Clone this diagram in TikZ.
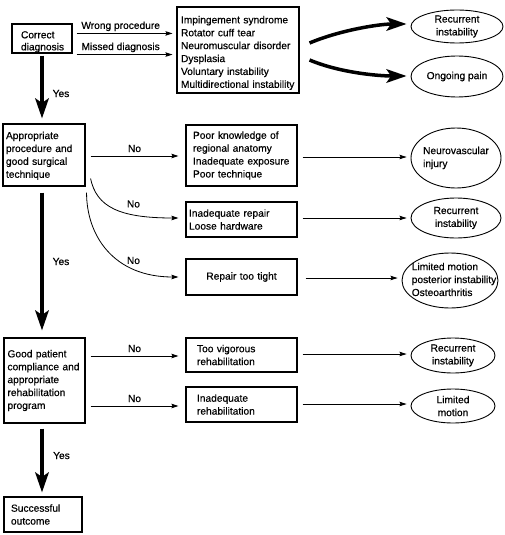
\documentclass[tikz,border=0pt]{standalone}
\usepackage{fontspec}
\setmainfont{Liberation Sans}[FakeBold=0.5]
\usetikzlibrary{shapes.geometric,arrows.meta,calc}
\newcommand{\topstrut}[1]{\rule{0pt}{#1}}
\newcommand{\leftlines}[1]{\begin{tabular}{@{}l@{}}#1\end{tabular}}
\begin{document}
\begin{tikzpicture}[x=1pt,y=-1pt,
  font=\fontsize{10.2}{12.9}\selectfont,
  box/.style={draw, line width=1.1pt, inner ysep=0pt, align=left},
  oval/.style={draw, ellipse, line width=0.9pt, inner sep=0pt},
  ovaltext/.style={inner sep=0pt},
  thinarr/.style={line width=0.8pt, -{Stealth[length=7pt,width=4.5pt,inset=1pt]}},
  thickarr/.style={line width=3.5pt, -{Stealth[length=20pt,width=13.5pt,inset=4.5pt]}},
  lab/.style={inner sep=0pt}
]
\useasboundingbox[fill=white] (0,0) rectangle (505,535);

% boxes
\node[box, minimum width=60pt, minimum height=29pt, inner xsep=9pt, text width=42pt, font=\fontsize{10.2}{12}\selectfont] (cd) at (42,38.5) {\topstrut{13.8pt}Correct\\diagnosis};
\node[box, minimum width=122pt, minimum height=86pt, inner xsep=4pt, text width=114pt] (bb) at (238,50) {\topstrut{13.3pt}Impingement syndrome\\Rotator cuff tear\\Neuromuscular disorder\\Dysplasia\\Voluntary instability\\Multidirectional instability};
\node[box, minimum width=82pt, minimum height=62pt, inner xsep=3pt, text width=76pt] (ap) at (44,155) {\topstrut{9pt}Appropriate\\procedure and\\good surgical\\technique};
\node[box, minimum width=111pt, minimum height=61pt, inner xsep=7pt, text width=97pt] (pk) at (241.5,155.5) {Poor knowledge of\\regional anatomy\\Inadequate exposure\\Poor technique};
\node[box, minimum width=111pt, minimum height=35pt, inner xsep=3pt, text width=105pt] (ir) at (241.5,219.5) {Inadequate repair\\Loose hardware};
\node[box, minimum width=111pt, minimum height=36pt, inner xsep=3pt, text width=105pt, align=center] (rt) at (241.5,277) {Repair too tight};
\node[box, minimum width=81pt, minimum height=85pt, inner xsep=3.5pt, text width=74pt] (gp) at (44.5,380.5) {Good patient\\compliance and\\appropriate\\rehabilitation\\program};
\node[box, minimum width=111pt, minimum height=34pt, inner xsep=11pt, text width=89pt] (tv) at (241.5,355) {Too vigorous\\rehabilitation};
\node[box, minimum width=111pt, minimum height=35pt, inner xsep=11pt, text width=89pt] (irh) at (241.5,404.5) {Inadequate\\rehabilitation};
\node[box, minimum width=78pt, minimum height=35pt, inner xsep=7pt, text width=64pt] (so) at (43,514.5) {Successful\\outcome};

% ellipses
\node[oval, minimum width=92pt, minimum height=33pt, label={[ovaltext, align=center]center:Recurrent\\instability}] (e1) at (457,26.5) {};
\node[oval, minimum width=92pt, minimum height=41pt, label={[ovaltext, align=center]center:Ongoing pain}] (e2) at (457,76.5) {};
\node[oval, minimum width=90pt, minimum height=60pt, label={[ovaltext]center:{\leftlines{Neurovascular\\injury}}}] (e3) at (456,158) {};
\node[oval, minimum width=90pt, minimum height=40pt, label={[ovaltext, align=center]center:Recurrent\\instability}] (e4) at (456,218) {};
\node[oval, minimum width=96pt, minimum height=55pt, label={[ovaltext, xshift=4pt]center:{\leftlines{Limited motion\\posterior instability\\Osteoarthritis}}}] (e5) at (450,280.5) {};
\node[oval, minimum width=84pt, minimum height=35pt, label={[ovaltext, align=center]center:Recurrent\\instability}] (e6) at (453,355.5) {};
\node[oval, minimum width=84pt, minimum height=34pt, label={[ovaltext, align=center]center:Limited\\motion}] (e7) at (453,406) {};

% top connectors
\draw[thinarr] ($(cd.north east)+(4,10)$) -- node[lab, pos=0.46, above=2pt] (lwp) {Wrong procedure} ($(bb.west |- cd.north east)+(-4,10)$);
\draw[thinarr] ($(cd.south east)+(4,1)$) -- node[lab, pos=0.46, above=2pt] (lmd) {Missed diagnosis} ($(bb.west |- cd.south east)+(-4,1)$);
\draw[thickarr] ($(bb.east)+(10,-7)$) .. controls +(31,-13) and +(-27,0) .. ($(e1.west)+(-4,-2.5)$);
\draw[thickarr] ($(bb.east)+(10,10)$) .. controls +(31,13) and +(-27,0) .. ($(e2.west)+(-4,-0.5)$);

% yes arrows
\draw[thickarr] ($(cd.south)+(0,2)$) -- ($(cd.south |- ap.north)+(0,-5)$);
\node[lab] (y1) at ($(cd.south)+(19,40)$) {Yes};
\draw[thickarr] ($(ap.south -| cd.south)+(0,6)$) -- ($(cd.south |- gp.north)+(0,-7)$);
\node[lab] (y2) at ($(ap.south)+(17,75)$) {Yes};
\draw[thickarr] ($(gp.south -| cd.south)+(0,5)$) -- ($(cd.south |- so.north)+(0,-4)$);
\node[lab] (y3) at ($(gp.south)+(17,32)$) {Yes};

% procedure branch
\draw[thinarr] ($(ap.east)+(5,1)$) -- node[lab, above=3.5pt] (n1) {No} ($(pk.west |- ap.east)+(-7,1)$);
\draw[thinarr] ($(ap.south east)+(5,-8)$) .. controls +(6,28) and +(-60,0) .. ($(ir.west)+(-7,-1.5)$);
\node[lab] (n2) at ($(ir.west)+(-52,-15.5)$) {No};
\draw[thinarr] ($(ap.south east)+(1,6)$) .. controls +(0,43) and +(-65,0) .. ($(rt.west)+(-7,0)$);
\node[lab] (n3) at ($(rt.west)+(-52,-16.5)$) {No};

\draw[thinarr] ($(pk.east)+(5,1.5)$) -- ($(e3.west |- pk.east)+(-4,1.5)$);
\draw[thinarr] ($(ir.east)+(5,-1.5)$) -- ($(e4.west |- ir.east)+(-4,-1.5)$);
\draw[thinarr] ($(rt.east)+(8,1)$) -- ($(e5.west |- rt.east)+(-4,1)$);

% rehabilitation branch
\draw[thinarr] ($(gp.east |- tv.west)+(5,1)$) -- node[lab, above=3.5pt] (n4) {No} ($(tv.west)+(-7,1)$);
\draw[thinarr] ($(gp.east |- irh.west)+(5,1.5)$) -- node[lab, above=3.5pt] (n5) {No} ($(irh.west)+(-7,1.5)$);
\draw[thinarr] ($(tv.east)+(5,-1)$) -- ($(e6.west |- tv.east)+(-4,-1)$);
\draw[thinarr] ($(irh.east)+(5,-0.5)$) -- ($(e7.west |- irh.east)+(-4,-0.5)$);
\end{tikzpicture}
\end{document}
